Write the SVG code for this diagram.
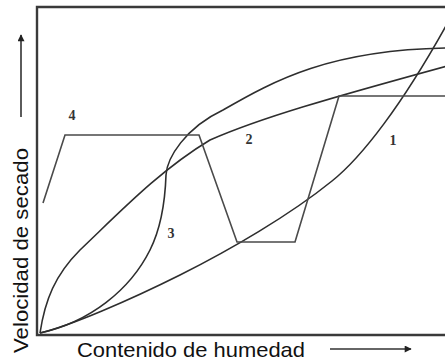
<svg xmlns="http://www.w3.org/2000/svg" width="445" height="362" viewBox="0 0 445 362">
  <defs>
    <marker id="ah" viewBox="0 0 10 10" refX="9" refY="5" markerWidth="9" markerHeight="7" markerUnits="userSpaceOnUse" orient="auto">
      <path d="M0,0 L10,5 L0,10 z" fill="#222"/>
    </marker>
  </defs>
  <style>
    .frame { fill: none; stroke: #3a3a3a; stroke-width: 2.4; }
    .curve { fill: none; stroke: #2e2e2e; stroke-width: 1.6; stroke-linejoin: round; }
    .poly { fill: none; stroke: #4a4a4a; stroke-width: 1.6; stroke-linejoin: miter; }
    .axisarrow { fill: none; stroke: #333; stroke-width: 1.6; }
    .num { font-family: "Liberation Serif", "Times New Roman", serif; font-size: 14px; font-weight: bold; fill: #333; text-anchor: middle; }
    .lab { font-family: "Liberation Sans", Arial, sans-serif; fill: #111; }
  </style>
  <rect width="445" height="362" fill="#fff"/>
  <g id="frame">
    <path class="frame" d="M446,7 L37,7 L37,335 L446,335"/>
  </g>
  <g id="curves">
    <path id="curve1" class="curve" d="M40,333 C70,326 130,300 180,275 C230,250 290,215 332,181 C362,157 402,105 447,24"/>
    <path id="curve2" class="curve" d="M40,333 C45,300 55,275 80,250 C120,212 160,170 210,140 C260,118 330,98 447,66"/>
    <path id="curve3" class="curve" d="M40,333 C90,322 130,290 150,250 C160,230 165,205 166,175 C167,158 185,128 223,110 C275,80 330,50 447,48"/>
    <path id="curve4" class="poly" d="M43,203 L65,135 L199,135 L237,242 L295,242 L339,96 L447,96"/>
  </g>
  <g id="labels">
    <text class="num" x="72" y="120">4</text>
    <text class="num" x="249" y="144">2</text>
    <text class="num" x="393" y="145">1</text>
    <text class="num" x="171" y="238">3</text>
  </g>
  <g id="axes">
    <line class="axisarrow" x1="21" y1="117" x2="21" y2="35" marker-end="url(#ah)"/>
    <line class="axisarrow" x1="330" y1="349" x2="411" y2="349" marker-end="url(#ah)"/>
    <text class="lab" x="77" y="357" font-size="21" textLength="228" lengthAdjust="spacingAndGlyphs">Contenido de humedad</text>
    <text class="lab" transform="translate(28,353) rotate(-90)" x="0" y="0" font-size="20" textLength="205" lengthAdjust="spacingAndGlyphs">Velocidad de secado</text>
  </g>
</svg>
